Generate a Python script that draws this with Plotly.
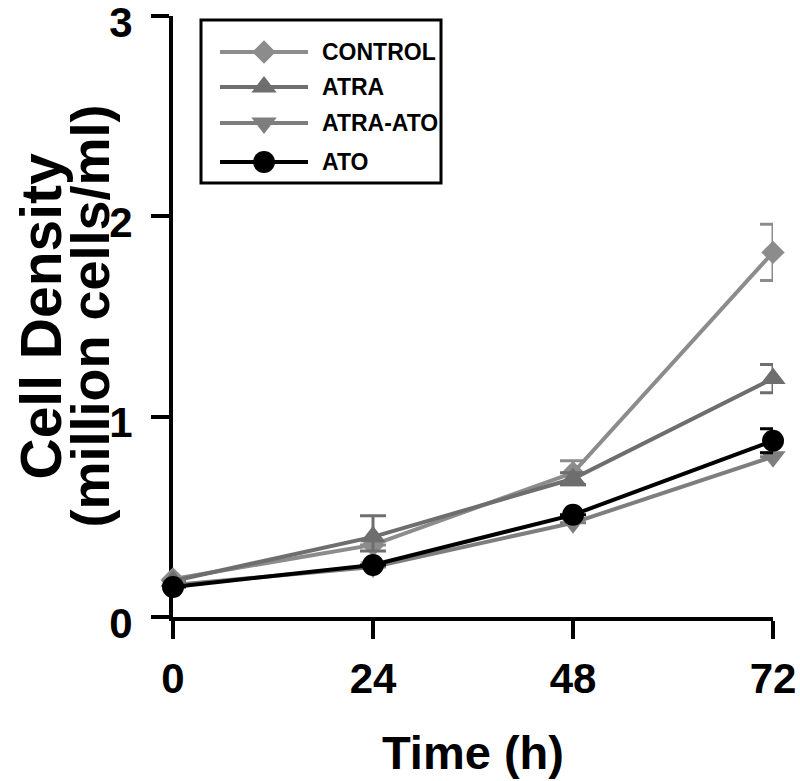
import plotly.graph_objects as go

# ---- data ----
time_h = [0, 24, 48, 72]
series_names = ["CONTROL", "ATRA", "ATRA-ATO", "ATO"]
control = [0.19, 0.36, 0.72, 1.82]
control_err_plus = [0, 0, 0.06, 0.14]
control_err_minus = [0, 0, 0.06, 0.14]
atra = [0.18, 0.40, 0.69, 1.19]
atra_err_plus = [0, 0.105, 0.03, 0.07]
atra_err_minus = [0, 0.07, 0.03, 0.07]
atra_ato = [0.16, 0.25, 0.47, 0.80]
atra_ato_err_plus = [0, 0, 0, 0]
atra_ato_err_minus = [0, 0, 0, 0]
ato = [0.15, 0.26, 0.51, 0.88]
ato_err_plus = [0, 0, 0, 0.06]
ato_err_minus = [0, 0, 0, 0.06]
x_ticks = [0, 24, 48, 72]
y_ticks = [0, 1, 2, 3]

# ---- style ----
FONT = "Liberation Sans"
colors = ["#8c8c8c", "#6e6e6e", "#7e7e7e", "#000000"]
symbols = ["diamond", "triangle-up", "triangle-down", "circle"]
sizes = [18, 22, 22, 22]
values = [control, atra, atra_ato, ato]
errs_plus = [control_err_plus, atra_err_plus, atra_ato_err_plus, ato_err_plus]
errs_minus = [control_err_minus, atra_err_minus, atra_ato_err_minus, ato_err_minus]

W, H = 800, 781
X0, X1 = 173, 773      # page x of plot area left/right
Y0, Y1 = 16, 617       # page y of plot area top/bottom
ML, MT = X0, Y0
PW, PH = X1 - X0, Y1 - Y0
MR = W - ML - PW
MB = H - MT - PH

fig = go.Figure()
for name, y, ep, em, c, s, sz in zip(series_names, values, errs_plus, errs_minus,
                                     colors, symbols, sizes):
    fig.add_trace(go.Scatter(
        x=time_h, y=y, name=name, mode="lines+markers",
        line=dict(color=c, width=4),
        marker=dict(symbol=s, size=sz, color=c, line=dict(width=0)),
        error_y=dict(type="data", array=ep, arrayminus=em, symmetric=False,
                     visible=True, color=c, thickness=3, width=13),
        cliponaxis=False, showlegend=False,
    ))

# ---- custom legend (overlay axes in pixel units of the plot area) ----
def px(xp):
    return xp - X0

def py(yp):
    return Y1 - yp

row_y = [52, 87, 123, 162]
for name, c, s, sz, ry in zip(series_names, colors, symbols, sizes, row_y):
    fig.add_trace(go.Scatter(
        x=[px(220), px(308)], y=[py(ry), py(ry)], mode="lines",
        line=dict(color=c, width=4), xaxis="x2", yaxis="y2",
        showlegend=False, hoverinfo="skip", cliponaxis=False))
    fig.add_trace(go.Scatter(
        x=[px(264)], y=[py(ry)], mode="markers",
        marker=dict(symbol=s, size=sz, color=c, line=dict(width=0)),
        xaxis="x2", yaxis="y2", showlegend=False, hoverinfo="skip",
        cliponaxis=False))
    fig.add_annotation(x=px(320), y=py(ry), xref="x2", yref="y2",
                       text=name, showarrow=False, xanchor="left",
                       yanchor="middle",
                       font=dict(family=FONT, size=23, color="black",
                                 weight="bold"))

fig.add_shape(type="rect", xref="x2", yref="y2",
              x0=px(201), x1=px(441), y0=py(20), y1=py(183),
              line=dict(color="black", width=3), fillcolor="rgba(0,0,0,0)")

# ---- axis titles ----
fig.add_annotation(x=0, y=0.5, xref="paper", yref="paper", xshift=40 - X0,
                   text="Cell Density", textangle=-90, showarrow=False,
                   xanchor="center", yanchor="middle",
                   font=dict(family=FONT, size=57, color="black", weight="bold"))
fig.add_annotation(x=0, y=0.5, xref="paper", yref="paper", xshift=89 - X0,
                   text="(million cells/ml)", textangle=-90, showarrow=False,
                   xanchor="center", yanchor="middle",
                   font=dict(family=FONT, size=54, color="black", weight="bold"))
fig.add_annotation(x=0.5, y=0, xref="paper", yref="paper", yshift=-(752 - Y1),
                   text="Time (h)", showarrow=False,
                   xanchor="center", yanchor="middle",
                   font=dict(family=FONT, size=47, color="black", weight="bold"))

axis_common = dict(showline=True, linewidth=4, linecolor="black",
                   ticks="outside", ticklen=18, tickwidth=4, tickcolor="black",
                   showgrid=False, zeroline=False, layer="below traces",
                   ticklabeloverflow="allow", automargin=False,
                   tickfont=dict(family=FONT, size=42, color="black", weight="bold"))

fig.update_layout(
    width=W, height=H,
    margin=dict(l=ML, r=MR, t=MT, b=MB, pad=0, autoexpand=False),
    paper_bgcolor="white", plot_bgcolor="white",
    xaxis=dict(range=[0, 72], tickvals=x_ticks, ticklabelstandoff=4, **axis_common),
    yaxis=dict(range=[0, 3], tickvals=y_ticks, ticklabelstandoff=10,
               ticklabelshift=6, **axis_common),
    xaxis2=dict(range=[0, PW], overlaying="x", visible=False, fixedrange=True,
                automargin=False),
    yaxis2=dict(range=[0, PH], overlaying="y", visible=False, fixedrange=True,
                automargin=False),
)

# remove the browser's default 8px body margin so the figure fills the window
fig.write_html("out.html",
               config={"displayModeBar": False},
               post_script="document.body.style.margin='0';"
                           "document.body.style.overflow='hidden';")
